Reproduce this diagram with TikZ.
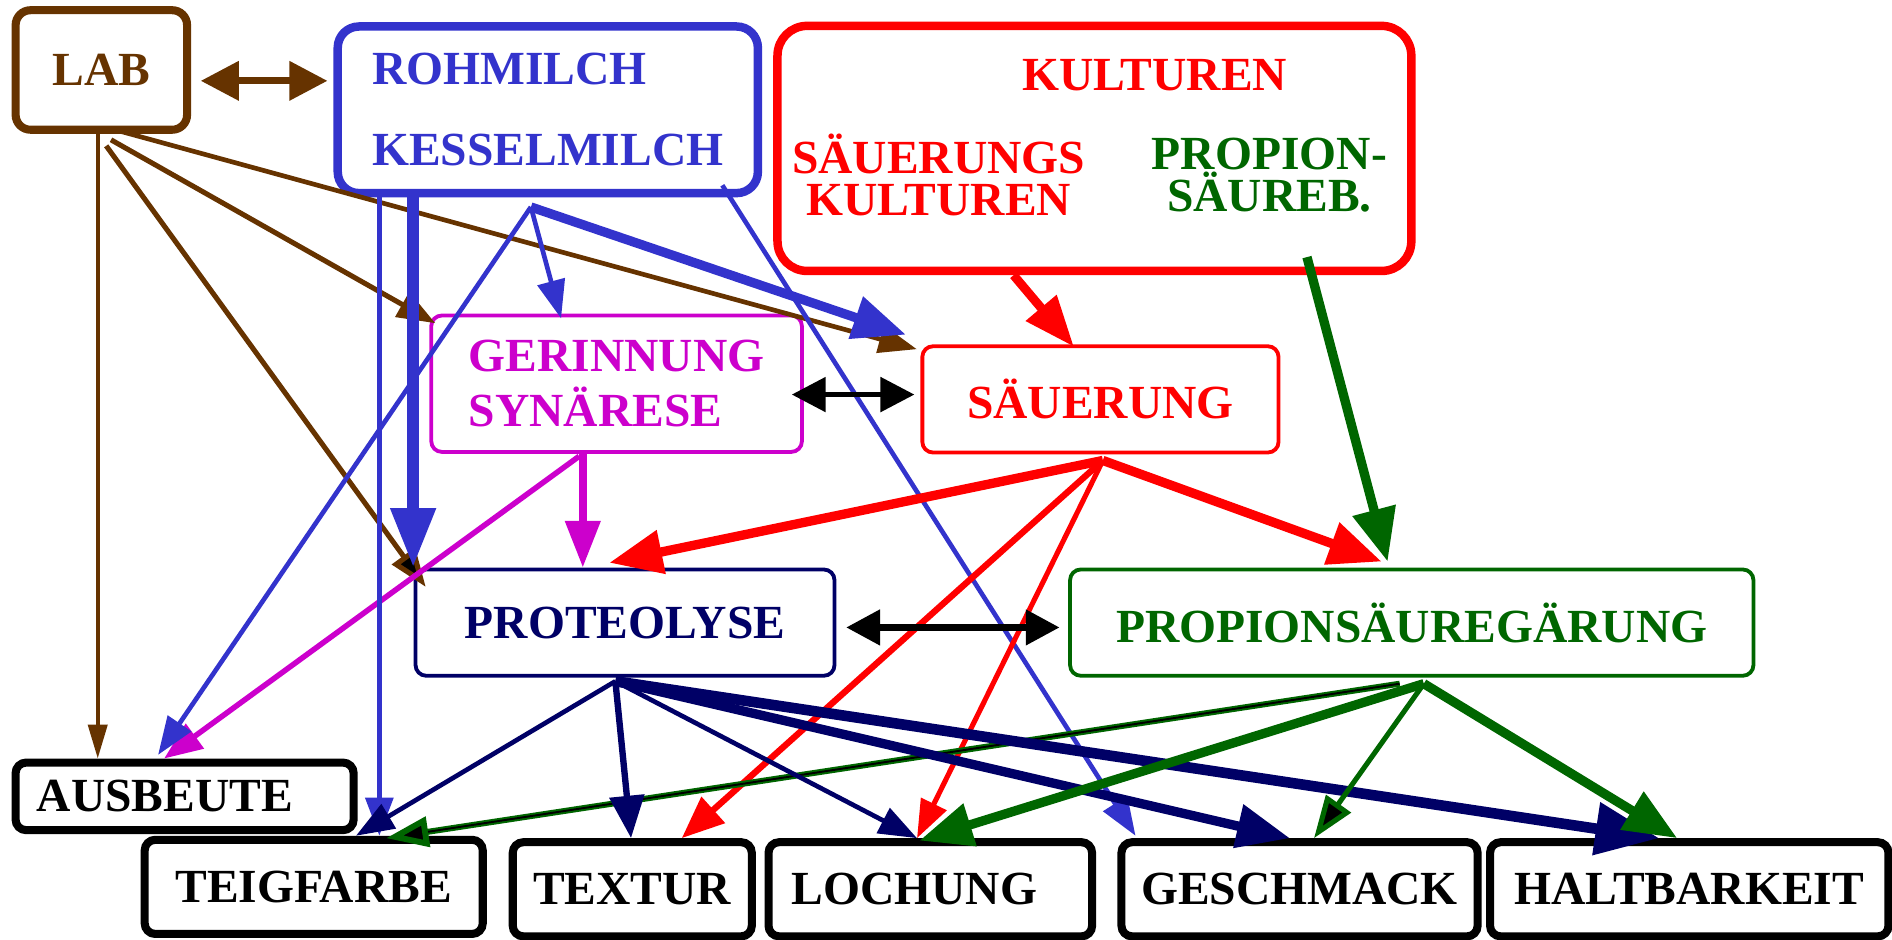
\documentclass[tikz,border=0pt]{standalone}
\usepackage{fontspec}
\setmainfont{Liberation Serif}
\usetikzlibrary{arrows.meta, calc}

\definecolor{labbrown}{HTML}{663300}
\definecolor{milchblue}{HTML}{3333CC}
\definecolor{kultred}{HTML}{FF0000}
\definecolor{gerinnmag}{HTML}{CC00CC}
\definecolor{protnavy}{HTML}{000066}
\definecolor{propgreen}{HTML}{006600}

\begin{document}
\begin{tikzpicture}[x=0.01cm, y=-0.01cm,
        every node/.style={font=\fontsize{11.2}{13}\selectfont\bfseries},
        box/.style={draw, rounded corners=2.5pt, line width=0.9pt},
        bigbox/.style={draw, rounded corners=3.5pt, line width=1.9pt},
        endbox/.style={bigbox, black, rounded corners=2.5pt, minimum height=0.78cm},
        arrS/.style={line width=1.1pt, -{Triangle[length=9pt,width=6.5pt]}},
        arrM/.style={line width=1.5pt, -{Triangle[length=10pt,width=8pt]}},
        arrL/.style={line width=2.2pt, -{Triangle[length=12.5pt,width=10pt]}},
        both/.style={line width=1.4pt, {Triangle[length=8pt,width=8pt]}-{Triangle[length=8pt,width=8pt]}}]
        \useasboundingbox (0,0) rectangle (1568,779);

        \node[bigbox, labbrown, minimum width=1.42cm, minimum height=0.99cm]                (lab)    at (84,58)    {LAB};
        \node[bigbox, milchblue, line width=2pt, rounded corners=5pt, align=left,
              minimum width=3.48cm, minimum height=1.38cm]                                  (milch)  at (454,91)   {ROHMILCH\\[6pt]KESSELMILCH};
        \node[bigbox, kultred, line width=2pt, rounded corners=7pt,
              minimum width=5.25cm, minimum height=2.03cm]                                  (kult)   at (907,123)  {};
        \node[kultred]                                                                      (kulttitle) at (957,62) {KULTUREN};
        \node[kultred, align=center]                                                        (saeukult)  at (778,145) {SÄUERUNGS\\[-3pt]KULTUREN};
        \node[propgreen, align=center]                                                      (propkult)  at (1052,145) {PROPION-\\[-3pt]SÄUREB.};
        \node[box, gerinnmag, align=left, minimum width=3.07cm, minimum height=1.13cm]      (gerinn) at (511,318)  {GERINNUNG\\SYNÄRESE};
        \node[box, kultred, minimum width=2.95cm, minimum height=0.88cm]                    (saeu)   at (912,331)  {SÄUERUNG};
        \node[box, protnavy, minimum width=3.47cm, minimum height=0.88cm]                   (prot)   at (518,516)  {PROTEOLYSE};
        \node[box, propgreen, minimum width=5.66cm, minimum height=0.88cm]                  (propg)  at (1170,516) {PROPIONSÄUREGÄRUNG};
        \node[endbox, minimum width=2.80cm, minimum height=0.56cm, text width=2.45cm, align=left] (ausb) at (153,660) {AUSBEUTE};
        \node[endbox, minimum width=2.80cm]                                                 (teig)   at (260,735)  {TEIGFARBE};
        \node[endbox, minimum width=1.98cm]                                                 (textur) at (524,737)  {TEXTUR};
        \node[endbox, minimum width=2.68cm, text width=2.3cm, align=left]                   (loch)   at (771,737)  {LOCHUNG};
        \node[endbox, minimum width=2.95cm]                                                 (gesch)  at (1077,737) {GESCHMACK};
        \node[endbox, minimum width=3.30cm]                                                 (halt)   at (1400,737) {HALTBARKEIT};

        \coordinate (mhub) at ($(milch.south)+(-14,8)$);
        \coordinate (shub) at ($(saeu.south)+(2,5)$);
        \coordinate (phub) at ($(prot.south)+(-8,3)$);
        \coordinate (ghub) at ($(propg.south)+(10,5)$);
        \coordinate (labfoot) at ($(lab.south)+(-3,0)$);
        \coordinate (mleft) at ($(milch.south west)+(66,0)$);
        \coordinate (mfar) at ($(milch.south west)+(38,0)$);
        \coordinate (gfoot) at ($(gerinn.south)+(-28,0)$);
        \coordinate (gtail) at ($(propg.south)+(-10,5)$);
        \coordinate (gtip) at ($(teig.north)+(60,2)$);

        \draw[labbrown, line width=1.6pt, {Triangle[length=9pt,width=9pt]}-{Triangle[length=9pt,width=9pt]}]
            ($(lab.east)+(8,9)$) -- ($(lab.east -| milch.west)+(-5,9)$);
        \draw[labbrown, line width=0.9pt, -{Triangle[length=8pt,width=4.5pt]}] (labfoot) -- (labfoot |- ausb.north);
        \draw[labbrown, line width=1.2pt, -{Triangle[length=9pt,width=6.5pt]}] ($(lab.south)+(8,5)$) -- ($(gerinn.north west)+(5,8)$);
        \draw[labbrown, line width=1.2pt, -{Triangle[length=9pt,width=6.5pt,fill=black]}] ($(lab.south)+(4,10)$) -- ($(prot.north west)+(10,16)$);
        \draw[labbrown, arrS] ($(lab.south)+(16,-2)$) -- ($(saeu.north west)+(-3,4)$);

        \draw[gerinnmag, line width=1.8pt, -{Triangle[length=11pt,width=8pt]}] (gfoot) -- (gfoot |- prot.north);
        \draw[gerinnmag, line width=1.3pt, -{Triangle[length=9pt,width=7pt]}] ($(gerinn.south)+(-31,2)$) -- ($(ausb.north)+(-17,0)$);

        \draw[milchblue, arrS] (mhub) -- ($(ausb.north)+(-22,-3)$);
        \draw[milchblue, arrS] (mhub) -- ($(gerinn.north)+(-46,4)$);
        \draw[milchblue, arrL] (mhub) -- ($(saeu.north west)+(-12,-8)$);
        \draw[milchblue, line width=2.9pt, -{Triangle[length=14pt,width=10pt]}] (mleft) -- (mleft |- prot.north);
        \draw[milchblue, arrS] (mfar) -- (mfar |- teig.north);
        \draw[milchblue, arrS] ($(milch.south east)+(-33,-10)$) -- ($(gesch.north west)+(15,-2)$);

        \draw[kultred, line width=2.1pt, -{Triangle[length=12pt,width=9pt]}] ($(kult.south)+(-67,0)$) -- ($(saeu.north)+(-22,2)$);
        \draw[kultred, arrL] (shub) -- ($(prot.north)+(-13,-4)$);
        \draw[kultred, arrL] (shub) -- ($(propg.north)+(-25,-5)$);
        \draw[kultred, arrM] (shub) -- ($(textur.north)+(41,0)$);
        \draw[kultred, arrS, line width=1.2pt] (shub) -- ($(loch.north)+(-11,0)$);

        \draw[propgreen, arrL] ($(kult.south east)+(-90,-15)$) -- ($(propg.north)+(-20,-5)$);
        \draw[propgreen, line width=1.4pt, -{Triangle[length=10pt,width=7pt,fill=black]}] (gtail) -- (gtip);
        \draw[black, line width=0.45pt, shorten >=10pt] (gtail) -- (gtip);

        \draw[protnavy, arrS] (phub) -- ($(teig.north)+(35,0)$);
        \draw[protnavy, arrM] (phub) -- ($(textur.north)+(-1,0)$);
        \draw[protnavy, arrS] (phub) -- ($(loch.north)+(-11,0)$);
        \draw[protnavy, arrL] (phub) -- ($(gesch.north)+(-8,0)$);
        \draw[protnavy, line width=2.5pt, -{Triangle[length=15pt,width=12pt]}] (phub) -- ($(halt.north)+(-25,0)$);

        \draw[propgreen, arrL] (ghub) -- ($(loch.north)+(-9,2)$);
        \draw[propgreen, line width=1.2pt, -{Triangle[length=10pt,width=7pt,fill=black]}] (ghub) -- ($(gesch.north)+(12,0)$);
        \draw[propgreen, arrL] (ghub) -- ($(halt.north)+(-10,0)$);

        \draw[both, line width=1.3pt] ($(gerinn.east)+(-10,9)$) -- ($(saeu.west)+(-5,-4)$);
        \draw[both, line width=1.8pt] ($(prot.east)+(8,4)$) -- ($(propg.west)+(-7,4)$);
    \end{tikzpicture}
\end{document}
